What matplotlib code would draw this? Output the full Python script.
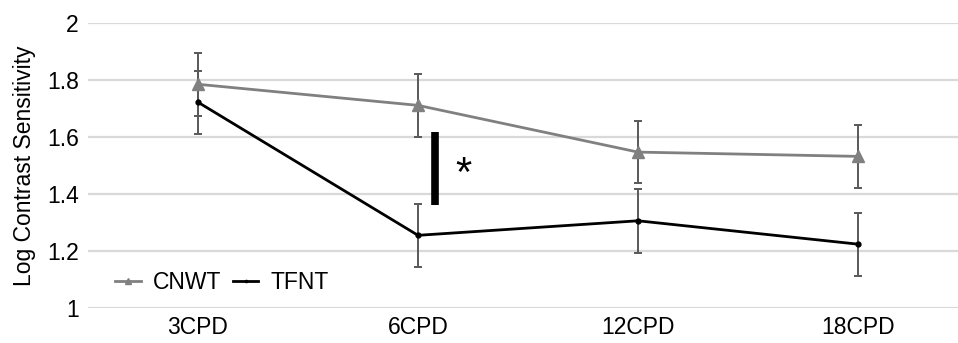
import matplotlib
matplotlib.use("Agg")
import matplotlib.pyplot as plt

CATS = ["3CPD", "6CPD", "12CPD", "18CPD"]
CNWT = [1.785, 1.711, 1.547, 1.532]
CNWT_ERR = [0.11, 0.11, 0.109, 0.11]
TFNT = [1.722, 1.255, 1.306, 1.224]
TFNT_ERR = [0.11, 0.11, 0.112, 0.11]
YTICKS = [1, 1.2, 1.4, 1.6, 1.8, 2]
FS = 16.5

plt.rcParams["font.family"] = ["Liberation Sans", "DejaVu Sans"]

fig = plt.figure(figsize=(9.58, 3.43), dpi=100)
ax = fig.add_axes([88 / 958, 1 - 308 / 343, 870 / 958, 285 / 343])

x = list(range(len(CATS)))
for y in YTICKS:
    ax.axhline(y, color="#d9d9d9", lw=1.6, zorder=0)

ax.errorbar(x, CNWT, yerr=CNWT_ERR, fmt="none", ecolor="#595959",
            elinewidth=1.4, capsize=3, capthick=1.4, zorder=2)
ax.errorbar(x, TFNT, yerr=TFNT_ERR, fmt="none", ecolor="#595959",
            elinewidth=1.4, capsize=3, capthick=1.4, zorder=2)
ax.plot(x, CNWT, color="#808080", lw=2, marker="^", ms=9,
        label="CNWT", zorder=3)
ax.plot(x, TFNT, color="black", lw=2, marker="o", ms=3.5,
        label="TFNT", zorder=3)

# significance bar
ax.plot([1.077, 1.077], [1.361, 1.619], color="black", lw=5.5,
        solid_capstyle="butt", zorder=4)
ax.text(1.205, 1.465, "*", fontsize=30, ha="center", va="center")

ax.set_xlim(-0.5, 3.4545)
ax.set_ylim(1, 2)
ax.set_xticks(x)
ax.set_xticklabels(CATS, fontsize=FS)
ax.set_yticks(YTICKS)
ax.set_yticklabels([f"{v:g}" for v in YTICKS], fontsize=FS)
ax.tick_params(length=0, pad=6.5)
ax.tick_params(axis="x", pad=6)
for s in ax.spines.values():
    s.set_visible(False)
ax.set_ylabel("Log Contrast Sensitivity", fontsize=FS, labelpad=8)

ax.legend(loc="center left", bbox_to_anchor=(0.013, 0.088), ncol=2,
          frameon=False, fontsize=FS, handlelength=1.1, handletextpad=0.55,
          columnspacing=0.5, markerscale=0.45, borderpad=0.2)

fig.savefig("out.png", dpi=100)
